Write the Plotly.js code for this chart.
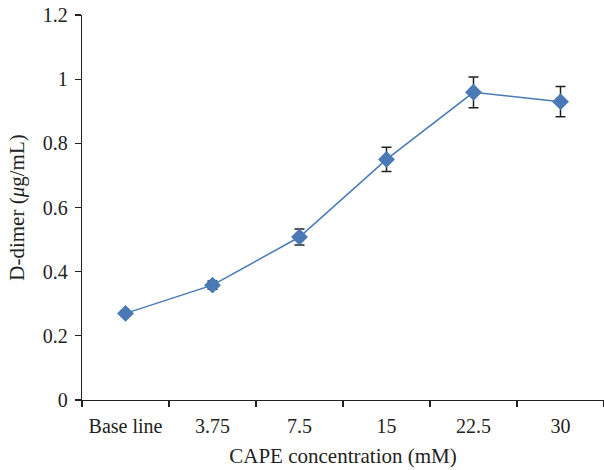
<!DOCTYPE html>
<html>
<head>
<meta charset="utf-8">
<script src="https://cdn.plot.ly/plotly-3.0.1.min.js"></script>
<style>html,body{margin:0;padding:0;background:#fff;}</style>
</head>
<body>
<div id="chart" style="width:604px;height:470px;"></div>
<script>
const categories = ["Base line", "3.75", "7.5", "15", "22.5", "30"];
const dDimer = [0.27, 0.358, 0.508, 0.75, 0.959, 0.93];
const errors = [0.008, 0.013, 0.025, 0.038, 0.048, 0.047];
const yTickVals = [0, 0.2, 0.4, 0.6, 0.8, 1, 1.2];
const yTickText = ["0", "0.2", "0.4", "0.6", "0.8", "1", "1.2"];

const font = "Liberation Serif, Times New Roman, serif";

const trace = {
  x: categories,
  y: dDimer,
  type: "scatter",
  mode: "lines+markers",
  line: {color: "#4a7ab5", width: 1.5},
  marker: {symbol: "diamond", size: 13, color: "#4a7ab5"},
  error_y: {type: "data", array: errors, visible: true, color: "#222", thickness: 1.5, width: 5}
};

const layout = {
  width: 604, height: 470,
  margin: {l: 82, r: 0, t: 15, b: 70},
  paper_bgcolor: "#fff", plot_bgcolor: "#fff",
  showlegend: false,
  font: {family: font, size: 20, color: "#222"},
  xaxis: {
    type: "category",
    range: [-0.5, 5.5],
    tickson: "boundaries",
    ticks: "outside", ticklen: 6, tickwidth: 1.3, tickcolor: "#222",
    ticklabelstandoff: 8,
    showline: true, linecolor: "#222", linewidth: 1.3,
    showgrid: false, zeroline: false,
    tickfont: {family: font, size: 20, color: "#222"},
    title: {text: "CAPE concentration (mM)", font: {family: font, size: 21, color: "#222"}, standoff: 12}
  },
  yaxis: {
    range: [0, 1.2],
    tickvals: yTickVals, ticktext: yTickText,
    ticks: "outside", ticklen: 6, tickwidth: 1.3, tickcolor: "#222",
    ticklabelstandoff: 3,
    showline: true, linecolor: "#222", linewidth: 1.3,
    showgrid: false, zeroline: false,
    tickfont: {family: font, size: 20, color: "#222"},
    title: {text: "D-dimer (<i>μ</i>g/mL)", font: {family: font, size: 21, color: "#222"}, standoff: 12}
  }
};

Plotly.newPlot("chart", [trace], layout, {displayModeBar: false, staticPlot: true});
</script>
</body>
</html>
